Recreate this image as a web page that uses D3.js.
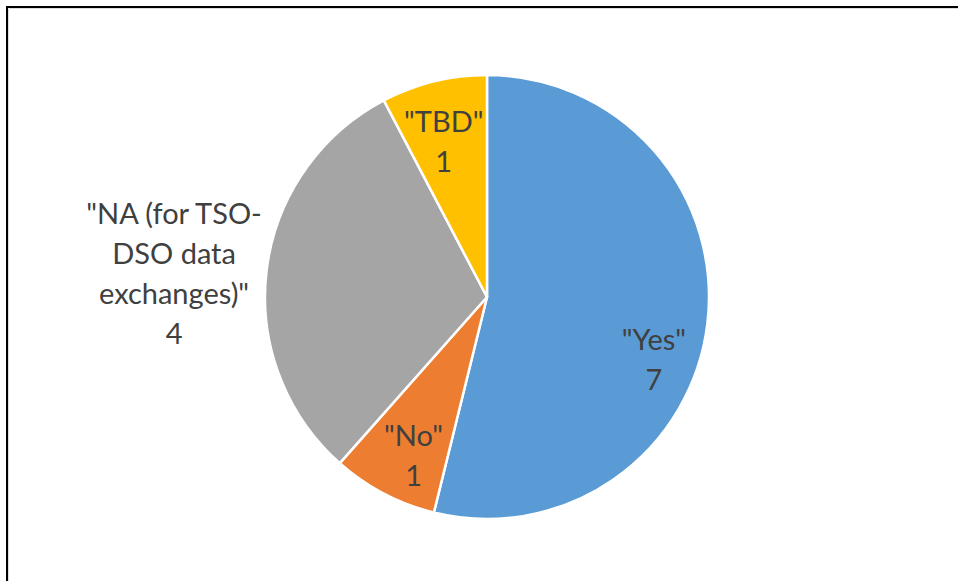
<!DOCTYPE html>
<html>
<head>
<meta charset="utf-8">
<style>
body { margin: 0; background: #fff; }
text.lbl {
  fill: #404040;
  font-family: Lato, "Open Sans", sans-serif;
  font-size: 29px;
}
</style>
</head>
<body>
<script src="https://cdn.jsdelivr.net/npm/d3@7"></script>
<script>

var categories = ['"Yes"', '"No"', '"NA (for TSO-DSO data exchanges)"', '"TBD"'];
var values = [7, 1, 4, 1];
var colors = ["#5B9BD5", "#ED7D31", "#A5A5A5", "#FFC000"];

// label text split into lines (the way the chart wraps them)
var labelLines = [['"Yes"'], ['"No"'], ['"NA (for TSO-', 'DSO data', 'exchanges)"'], ['"TBD"']];

var width = 958, height = 581;
var cx = 487, cy = 297, r = 222;

var svg = d3.select("body").append("svg")
    .attr("width", width)
    .attr("height", height);

// frame (runs off the right and bottom)
svg.append("rect")
    .attr("x", 7).attr("y", 7)
    .attr("width", 1000).attr("height", 1000)
    .style("fill", "none")
    .style("stroke", "#000")
    .style("stroke-width", 2);
svg.append("path")
    .attr("d", "M9,8.5H958M8.5,9V581")
    .style("stroke", "#ddd")
    .style("stroke-width", 1);

var data = categories.map(function(c, i) {
  return { name: c, value: values[i], color: colors[i], lines: labelLines[i] };
});

var pie = d3.pie()
    .sort(null)
    .value(function(d) { return d.value; });

var arc = d3.arc().innerRadius(0).outerRadius(r);

var g = svg.append("g").attr("transform", "translate(" + cx + "," + cy + ")");

var arcs = pie(data);

g.selectAll("path.slice")
    .data(arcs)
    .enter().append("path")
    .attr("class", "slice")
    .attr("d", arc)
    .style("fill", function(d) { return d.data.color; })
    .style("stroke", "#fff")
    .style("stroke-width", 2.5)
    .style("stroke-linejoin", "round");

// label placement: radius factor + nudge, like the best-fit layout
var labelPos = [
  { k: 0.78, dx: -5,  dy: 42 },
  { k: 0.78, dx: 7,   dy: 6 },
  { k: 1.42, dx: 0,   dy: 15 },
  { k: 0.72, dx: -5,  dy: 0 }
];

var lineH = 40;

arcs.forEach(function(d, i) {
  var p = labelPos[i];
  var la = d3.arc().innerRadius(r * p.k).outerRadius(r * p.k);
  var c = la.centroid(d);
  var lines = d.data.lines.concat([String(d.data.value)]);
  var x = c[0] + p.dx;
  var y0 = c[1] + p.dy - (lines.length - 1) * lineH / 2;
  var t = g.append("text")
      .attr("class", "lbl")
      .attr("text-anchor", "middle");
  lines.forEach(function(s, j) {
    t.append("tspan")
        .attr("x", x)
        .attr("y", y0 + j * lineH)
        .attr("dy", "0.35em")
        .text(s);
  });
});

</script>
</body>
</html>
